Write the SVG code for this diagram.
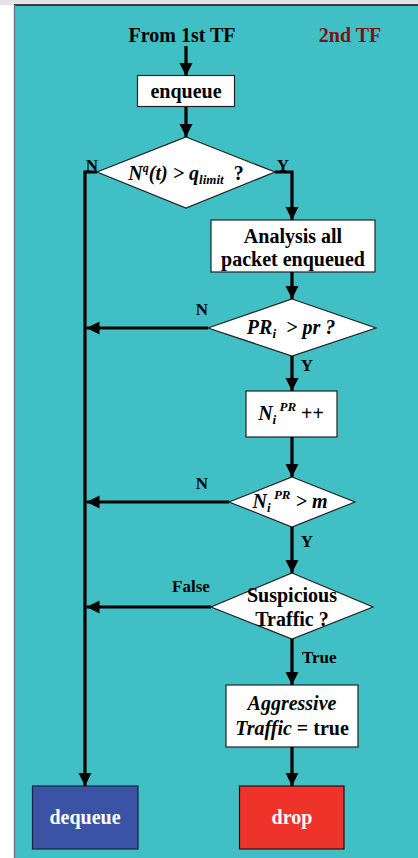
<svg xmlns="http://www.w3.org/2000/svg" width="418" height="858" viewBox="0 0 418 858">
<style>
.t{font-family:"Liberation Serif","Times New Roman",serif;font-weight:bold;fill:#000}
.b20{font-size:20px}
.lb{font-size:17px}
.it{font-style:italic}
.box{fill:#fff;stroke:#222;stroke-width:1.2}
.con{fill:none;stroke:#000;stroke-width:3.2;stroke-linejoin:miter}
</style>
<defs>
<marker id="ah" markerUnits="userSpaceOnUse" markerWidth="14" markerHeight="14" refX="13" refY="6.5" orient="auto">
<path d="M0,0 L13,6.5 L0,13 z" fill="#000"/>
</marker>
</defs>
<rect x="0" y="0" width="418" height="858" fill="#fff"/>
<rect x="0" y="0" width="418" height="5" fill="#e4e4e4"/>
<rect x="14" y="5" width="404" height="853" fill="#40C0C4"/>
<line x1="14" y1="5" x2="418" y2="5" stroke="#111" stroke-width="1.5"/>
<line x1="14.5" y1="5" x2="14.5" y2="858" stroke="#6b7b80" stroke-width="1.5"/>

<g id="start"><text class="t b20" x="182" y="42" text-anchor="middle">From 1st TF</text></g>
<g id="title2"><text class="t b20" x="350" y="42" text-anchor="middle" style="fill:#7B1416">2nd TF</text></g>

<g id="enqueue"><rect class="box" x="137.5" y="75.5" width="97" height="31"/><text class="t b20" x="186" y="98" text-anchor="middle">enqueue</text></g>

<g id="d1"><polygon class="box" points="186,137 275,172 186,208 97,172"/>
<text class="t b20" x="186" y="180" text-anchor="middle"><tspan class="it">N</tspan><tspan class="it" font-size="12" dy="-8">q</tspan><tspan class="it" dy="8">(t) &gt; q</tspan><tspan class="it" font-size="13" dy="4">limit</tspan><tspan dy="-4">&#160;&#160;?</tspan></text></g>

<g id="analysis"><rect class="box" x="211" y="220" width="164" height="52"/>
<text class="t b20" x="293" y="243" text-anchor="middle">Analysis all</text>
<text class="t b20" x="293" y="266" text-anchor="middle">packet enqueued</text></g>

<g id="d2"><polygon class="box" points="292,299 376,328 292,356 208,328"/>
<text class="t b20" x="291" y="334" text-anchor="middle"><tspan class="it">PR</tspan><tspan class="it" font-size="13" dy="4">i</tspan><tspan dy="-4" class="it">&#160;&#160;&gt; pr ?</tspan></text></g>

<g id="ninc"><rect class="box" x="246" y="391" width="91" height="46"/>
<text class="t b20" x="291" y="420" text-anchor="middle"><tspan class="it">N</tspan><tspan class="it" font-size="13" dy="4">i</tspan><tspan class="it" font-size="13" dy="-13"> PR</tspan><tspan dy="9"> ++</tspan></text></g>

<g id="d3"><polygon class="box" points="292,477 355,502 292,527 229,502"/>
<text class="t b20" x="290" y="508" text-anchor="middle"><tspan class="it">N</tspan><tspan class="it" font-size="13" dy="4">i</tspan><tspan class="it" font-size="13" dy="-13"> PR</tspan><tspan class="it" dy="9"> &gt; m</tspan></text></g>

<g id="d4"><polygon class="box" points="292,573 373,607 292,639 211,607"/>
<text class="t b20" x="292" y="602" text-anchor="middle">Suspicious</text>
<text class="t b20" x="292" y="626" text-anchor="middle">Traffic ?</text></g>

<g id="aggr"><rect class="box" x="226" y="685" width="132" height="62"/>
<text class="t b20 it" x="292" y="710" text-anchor="middle">Aggressive</text>
<text class="t b20" x="292" y="735" text-anchor="middle"><tspan class="it">Traffic</tspan> = true</text></g>

<g id="dequeue"><rect x="32.5" y="786" width="105.5" height="63" fill="#3A53A4" stroke="#1a2040" stroke-width="1.2"/>
<text class="t b20" x="85" y="824" text-anchor="middle" style="fill:#fff">dequeue</text></g>

<g id="drop"><rect x="239.5" y="786" width="104.5" height="63" fill="#EE332B" stroke="#2a1010" stroke-width="1.2"/>
<text class="t b20" x="292" y="824" text-anchor="middle" style="fill:#fff">drop</text></g>

<g id="connectors">
<line class="con" x1="186" y1="46" x2="186" y2="76" marker-end="url(#ah)"/>
<line class="con" x1="186" y1="107" x2="186" y2="137" marker-end="url(#ah)"/>
<polyline class="con" points="275,172 292,172 292,220" marker-end="url(#ah)"/>
<polyline class="con" points="97,172 85,172 85,786" marker-end="url(#ah)"/>
<line class="con" x1="292" y1="272" x2="292" y2="299" marker-end="url(#ah)"/>
<line class="con" x1="208" y1="328" x2="86.5" y2="328" marker-end="url(#ah)"/>
<line class="con" x1="292" y1="356" x2="292" y2="391" marker-end="url(#ah)"/>
<line class="con" x1="292" y1="437" x2="292" y2="477" marker-end="url(#ah)"/>
<line class="con" x1="229" y1="502" x2="86.5" y2="502" marker-end="url(#ah)"/>
<line class="con" x1="292" y1="527" x2="292" y2="573" marker-end="url(#ah)"/>
<line class="con" x1="211" y1="607" x2="86.5" y2="607" marker-end="url(#ah)"/>
<line class="con" x1="292" y1="639" x2="292" y2="685" marker-end="url(#ah)"/>
<line class="con" x1="292" y1="747" x2="292" y2="786" marker-end="url(#ah)"/>
<text class="t lb" x="92" y="171" text-anchor="middle">N</text>
<text class="t lb" x="283" y="171" text-anchor="middle">Y</text>
<text class="t lb" x="202" y="315" text-anchor="middle">N</text>
<text class="t lb" x="307" y="371" text-anchor="middle">Y</text>
<text class="t lb" x="202" y="489" text-anchor="middle">N</text>
<text class="t lb" x="307" y="547" text-anchor="middle">Y</text>
<text class="t lb" x="191" y="592" text-anchor="middle">False</text>
<text class="t lb" x="302" y="663">True</text>
</g>
</svg>
